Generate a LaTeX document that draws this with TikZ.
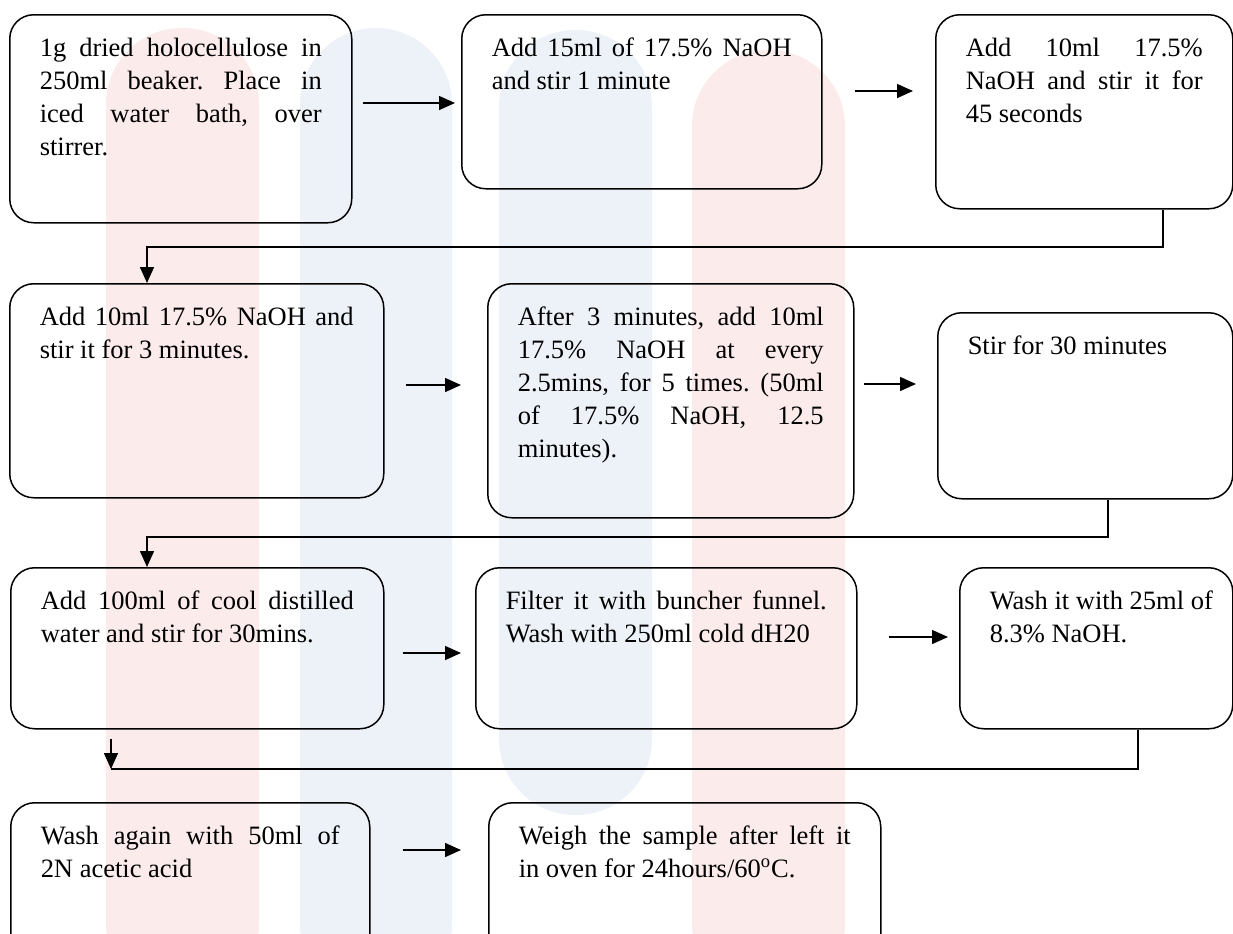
\documentclass[tikz,border=0pt]{standalone}
\usepackage{fontspec}
\setmainfont{Liberation Serif}
\usetikzlibrary{arrows.meta}
\definecolor{wmred}{RGB}{252,235,235}
\definecolor{wmblue}{RGB}{237,242,248}
\hyphenpenalty=10000
\exhyphenpenalty=10000
\tolerance=10000
\hbadness=10000
\hfuzz=20pt
\frenchspacing

\begin{document}
\begin{tikzpicture}[x=0.5pt, y=-0.5pt,
  stepbox/.style={draw, line width=0.75pt, rounded corners=12pt, anchor=north west,
    align=justify, inner xsep=15pt, inner ysep=11.5pt, text height=9.5pt,
    font=\fontsize{13.25pt}{16.5pt}\selectfont},
  flow/.style={line width=0.75pt, -{Triangle[length=8pt, width=7pt]}}]
\useasboundingbox (0,0) rectangle (1233,933);
% watermark bands
\fill[wmred, rounded corners=38pt] (106,28) rectangle (259,1000);
\fill[wmblue, rounded corners=38pt] (300,28) rectangle (452,1000);
\fill[wmblue, rounded corners=38pt] (499,30) rectangle (652,815);
\fill[wmred, rounded corners=38pt] (692,50) rectangle (845,1000);
% row 1
\node[stepbox, text width=141pt, text depth=71.5pt] (holo) at (9,14)
  {1g dried holocellulose in\linebreak 250ml beaker. Place in\linebreak iced water bath, over\linebreak stirrer.};
\node[stepbox, text width=150pt, text depth=54.5pt] (naoh15) at (461,14)
  {Add 15ml of 17.5\% NaOH\linebreak and stir 1 minute};
\node[stepbox, text width=118.5pt, text depth=64.5pt] (naoh45) at (935,14)
  {Add 10ml 17.5\%\linebreak NaOH and stir it for\linebreak 45 seconds};
% row 2
\node[stepbox, text width=157pt, text depth=74.5pt] (naoh3) at (9,283)
  {Add 10ml 17.5\% NaOH and\linebreak stir it for 3 minutes.};
\node[stepbox, text width=153pt, text depth=84.5pt] (every) at (487,283)
  {After 3 minutes, add 10ml\linebreak 17.5\% NaOH at every\linebreak 2.5mins, for 5 times. (50ml\linebreak of 17.5\% NaOH, 12.5\linebreak minutes).};
\node[stepbox, text width=117.5pt, text depth=60.5pt] (stir30) at (937,312)
  {Stir for 30 minutes};
% row 3
\node[stepbox, text width=156.5pt, text depth=48pt] (water) at (10,567)
  {Add 100ml of cool distilled\linebreak water and stir for 30mins.};
\node[stepbox, text width=160.5pt, text depth=48pt] (filter) at (475,567)
  {Filter it with buncher funnel.\linebreak Wash with 250ml cold dH20};
\node[stepbox, text width=106.5pt, text depth=48pt] (wash25) at (959,567)
  {\mbox{Wash it with 25ml of}\linebreak 8.3\% NaOH.};
% row 4
\node[stepbox, text width=149.5pt, text depth=48pt] (acetic) at (10,802)
  {Wash again with 50ml of\linebreak 2N acetic acid};
\node[stepbox, text width=166pt, text depth=48pt] (oven) at (488,802)
  {Weigh the sample after left it\linebreak in oven for 24hours/60\textsuperscript{o}C.};
% arrows along the rows
\draw[flow, shorten <=5pt, shorten >=3pt] (holo.east |- 0,103) -- (naoh15.west |- 0,103);
\draw[flow, shorten <=16pt, shorten >=11pt] (naoh15.east |- 0,91) -- (naoh45.west |- 0,91);
\draw[flow, shorten <=10.5pt, shorten >=13pt] (naoh3.east |- 0,385) -- (every.west |- 0,385);
\draw[flow, shorten <=4.5pt, shorten >=10.5pt] (every.east |- 0,384) -- (stir30.west |- 0,384);
\draw[flow, shorten <=9pt, shorten >=7pt] (water.east |- 0,653) -- (filter.west |- 0,653);
\draw[flow, shorten <=15.5pt, shorten >=5.5pt] (filter.east |- 0,637) -- (wash25.west |- 0,637);
\draw[flow, shorten <=16pt, shorten >=13.5pt] (acetic.east |- 0,850) -- (oven.west |- 0,850);
% arrows between the rows
\draw[flow] (naoh45.south -| 1163,0) |- (147,247) -- (naoh3.north -| 147,0);
\draw[flow] (stir30.south -| 1108,0) |- (147,537) -- (water.north -| 147,0);
\coordinate (join) at (111,769);
\draw[line width=0.75pt] (wash25.south -| 1138,0) |- (join);
\draw[flow, shorten <=4.5pt] (water.south -| join) -- (join);
\end{tikzpicture}
\end{document}
